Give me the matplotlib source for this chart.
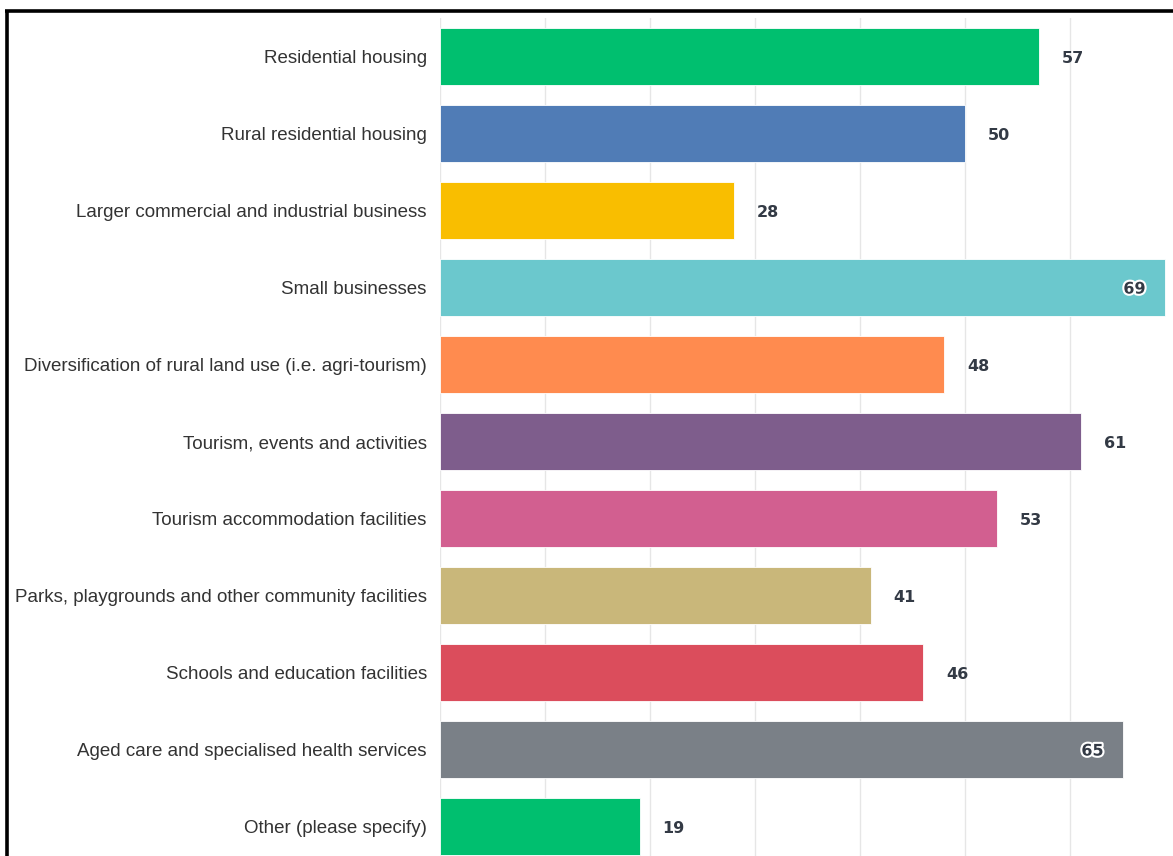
import matplotlib.pyplot as plt
from matplotlib.lines import Line2D
import matplotlib.patheffects as pe

plt.rcParams['font.family'] = ['Liberation Sans', 'DejaVu Sans']

categories = [
    "Residential housing",
    "Rural residential housing",
    "Larger commercial and industrial business",
    "Small businesses",
    "Diversification of rural land use (i.e. agri-tourism)",
    "Tourism, events and activities",
    "Tourism accommodation facilities",
    "Parks, playgrounds and other community facilities",
    "Schools and education facilities",
    "Aged care and specialised health services",
    "Other (please specify)",
]
values = [57, 50, 28, 69, 48, 61, 53, 41, 46, 65, 19]
colors = ["#00BF6F", "#507CB6", "#F9BE00", "#6BC8CD", "#FF8B4F", "#7E5D8C",
          "#D25F90", "#C9B77A", "#DB4D5C", "#7A8087", "#00BF6F"]

W, H = 1173, 856
fig = plt.figure(figsize=(W / 100, H / 100), dpi=100)
# plot area in pixels: left=440, top=18, right=1173, bottom=856
ax = fig.add_axes([440 / W, 0, (W - 440) / W, (H - 18) / H])

ypos = list(range(len(categories)))
ax.barh(ypos, values, height=0.74, color=colors, edgecolor='white', linewidth=0.6, zorder=2)

ax.set_xlim(0, (W - 440) / 10.5)
ax.set_ylim(10.383, -0.5)
ax.set_xticks(range(0, 70, 10))
ax.grid(axis='x', color='#e6e6e6', linewidth=1, zorder=0)
ax.tick_params(axis='x', length=0, labelbottom=False)
ax.tick_params(axis='y', length=0, pad=9.5, labelsize=13.5, labelcolor='#333333')
ax.set_yticks(ypos)
ax.set_yticklabels(categories)
for s in ax.spines.values():
    s.set_visible(False)

for y, v in zip(ypos, values):
    if v >= 65:
        ax.text(v - 1.8, y + 0.02, str(v), ha='right', va='center', fontsize=11.5,
                fontweight='bold', color='#333a45', family='DejaVu Sans',
                path_effects=[pe.withStroke(linewidth=3, foreground='white')])
    else:
        ax.text(v + 2.2, y + 0.02, str(v), ha='left', va='center', fontsize=11.5,
                fontweight='bold', color='#333a45', family='DejaVu Sans')

# outer frame (top and left edges)
fig.add_artist(Line2D([5 / W, 1], [1 - 10.5 / H, 1 - 10.5 / H], color='black', linewidth=2.6,
                      solid_capstyle='butt', transform=fig.transFigure))
fig.add_artist(Line2D([7 / W, 7 / W], [0, 1 - 9.5 / H], color='black', linewidth=2.6,
                      solid_capstyle='butt', transform=fig.transFigure))

fig.savefig('out.png', dpi=100)
